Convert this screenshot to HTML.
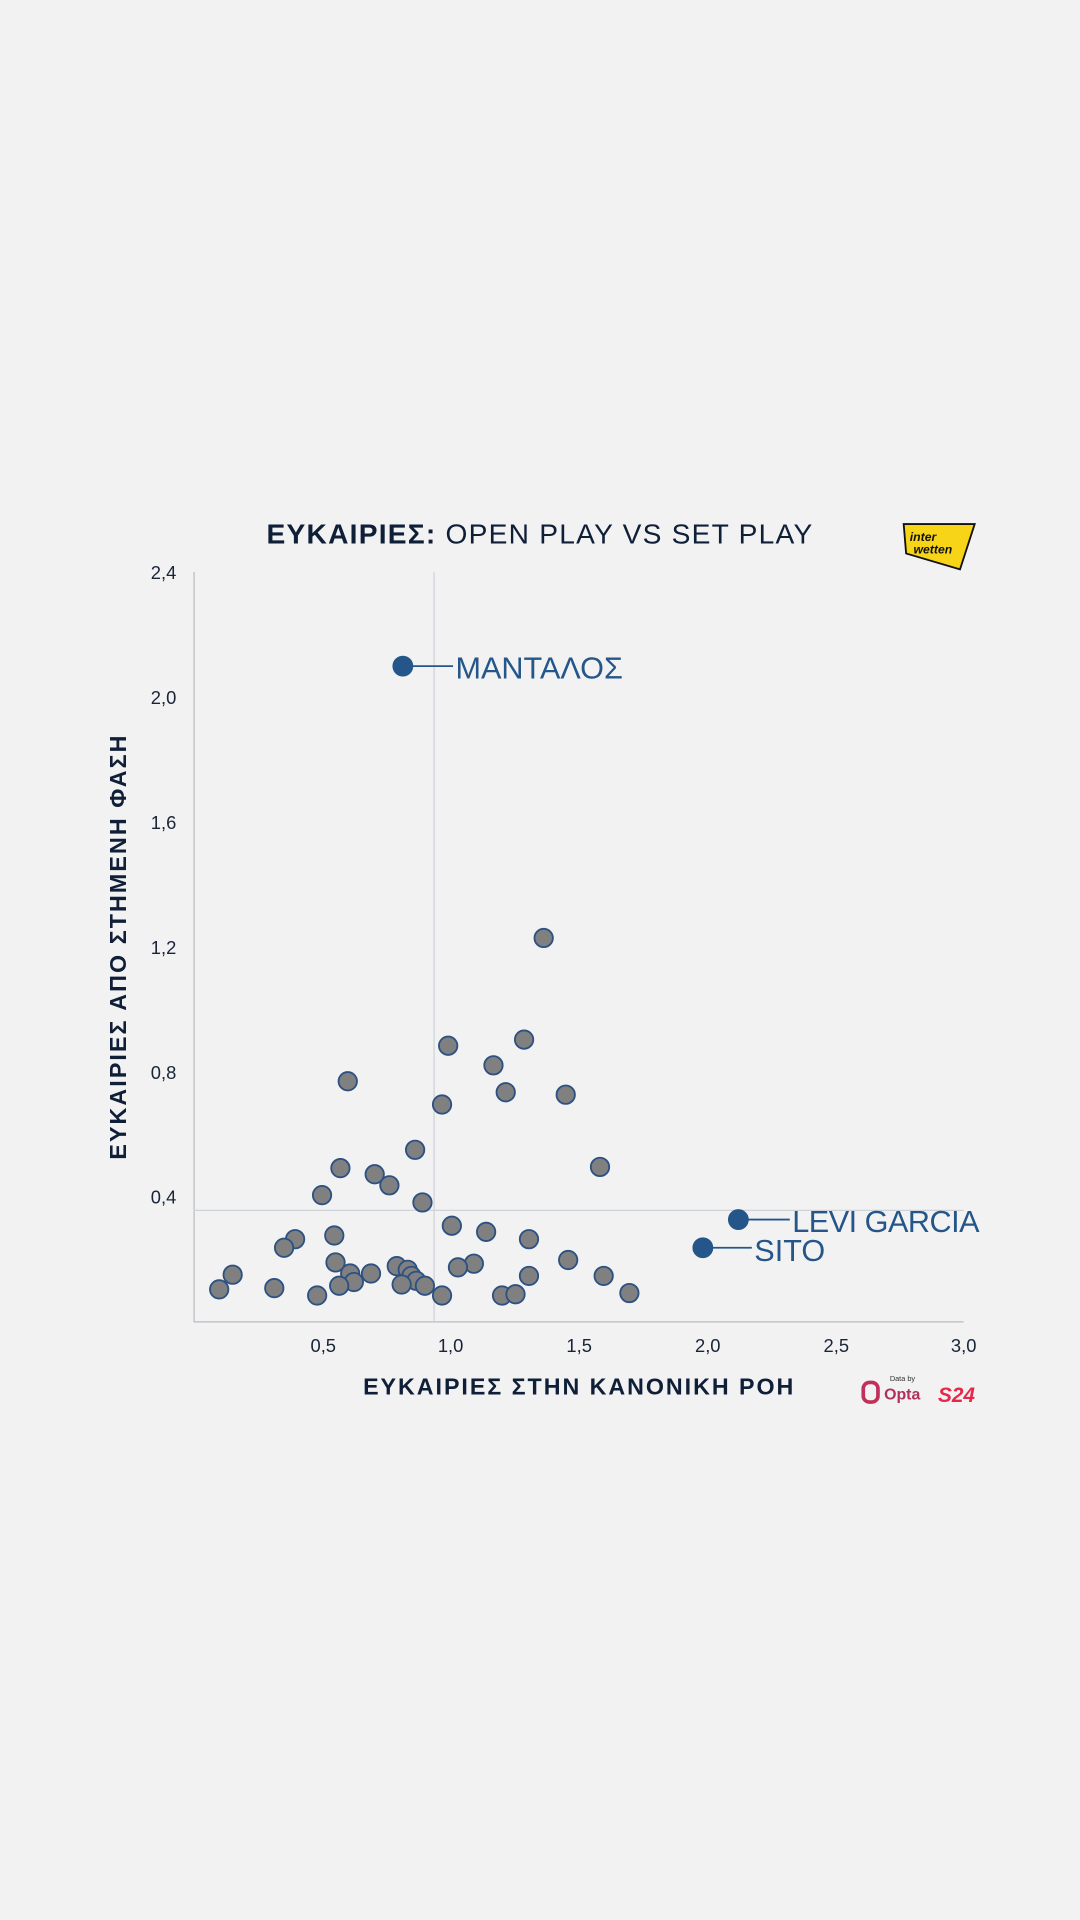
<!DOCTYPE html>
<html><head><meta charset="utf-8"><style>
html,body{margin:0;padding:0;background:#f2f2f2;}
svg{display:block;}
text{font-family:"Liberation Sans","DejaVu Sans",sans-serif;}
</style></head><body>
<svg width="1080" height="1920" viewBox="0 0 882 1568" xmlns="http://www.w3.org/2000/svg">
<rect width="882" height="1568" fill="#f2f2f2"/>
<text x="441" y="444" text-anchor="middle" font-size="23" letter-spacing="1" fill="#0f1f38"><tspan font-weight="bold">ΕΥΚΑΙΡΙΕΣ:</tspan> OPEN PLAY VS SET PLAY</text>
<polygon points="738,428 796,428 784,465 740,452" fill="#f7d417" stroke="#111" stroke-width="1.5"/>
<text x="743" y="442" font-size="10" font-weight="bold" font-style="italic" fill="#111">inter</text>
<text x="746" y="452" font-size="10" font-weight="bold" font-style="italic" fill="#111">wetten</text>
<line x1="158.5" y1="467" x2="158.5" y2="1079" stroke="#b8bcc2" stroke-width="1"/>
<line x1="158" y1="1079.5" x2="787" y2="1079.5" stroke="#b8bcc2" stroke-width="1"/>
<line x1="354.5" y1="467" x2="354.5" y2="1079" stroke="#cdd3d8" stroke-width="1"/>
<line x1="158" y1="988.5" x2="787" y2="988.5" stroke="#cdd3d8" stroke-width="1"/>
<g font-size="15" fill="#1a2438" text-anchor="end">
<text x="144" y="473">2,4</text><text x="144" y="575">2,0</text><text x="144" y="677">1,6</text>
<text x="144" y="779">1,2</text><text x="144" y="881">0,8</text><text x="144" y="983">0,4</text>
</g>
<g font-size="15" fill="#1a2438" text-anchor="middle">
<text x="264" y="1104">0,5</text><text x="368" y="1104">1,0</text><text x="473" y="1104">1,5</text>
<text x="578" y="1104">2,0</text><text x="683" y="1104">2,5</text><text x="787" y="1104">3,0</text>
</g>
<text x="473" y="1139" text-anchor="middle" font-size="19" letter-spacing="1.6" font-weight="bold" fill="#0f1f38">ΕΥΚΑΙΡΙΕΣ ΣΤΗΝ ΚΑΝΟΝΙΚΗ ΡΟΗ</text>
<text transform="translate(103,773) rotate(-90)" text-anchor="middle" font-size="19" letter-spacing="1.7" font-weight="bold" fill="#0f1f38">ΕΥΚΑΙΡΙΕΣ ΑΠΟ ΣΤΗΜΕΝΗ ΦΑΣΗ</text>
<g fill="#808080" stroke="#2c5182" stroke-width="1.5">
<circle cx="444" cy="766" r="7.5"/><circle cx="366" cy="854" r="7.5"/><circle cx="428" cy="849" r="7.5"/>
<circle cx="403" cy="870" r="7.5"/><circle cx="413" cy="892" r="7.5"/><circle cx="462" cy="894" r="7.5"/>
<circle cx="284" cy="883" r="7.5"/><circle cx="361" cy="902" r="7.5"/><circle cx="339" cy="939" r="7.5"/>
<circle cx="490" cy="953" r="7.5"/><circle cx="278" cy="954" r="7.5"/><circle cx="306" cy="959" r="7.5"/>
<circle cx="318" cy="968" r="7.5"/><circle cx="263" cy="976" r="7.5"/><circle cx="345" cy="982" r="7.5"/>
<circle cx="369" cy="1001" r="7.5"/><circle cx="397" cy="1006" r="7.5"/><circle cx="273" cy="1009" r="7.5"/>
<circle cx="241" cy="1012" r="7.5"/><circle cx="232" cy="1019" r="7.5"/><circle cx="432" cy="1012" r="7.5"/>
<circle cx="274" cy="1031" r="7.5"/><circle cx="324" cy="1034" r="7.5"/><circle cx="333" cy="1037" r="7.5"/>
<circle cx="387" cy="1032" r="7.5"/><circle cx="374" cy="1035" r="7.5"/><circle cx="464" cy="1029" r="7.5"/>
<circle cx="286" cy="1040" r="7.5"/><circle cx="303" cy="1040" r="7.5"/><circle cx="190" cy="1041" r="7.5"/>
<circle cx="289" cy="1047" r="7.5"/><circle cx="336" cy="1042" r="7.5"/><circle cx="340" cy="1046" r="7.5"/>
<circle cx="347" cy="1050" r="7.5"/><circle cx="328" cy="1049" r="7.5"/><circle cx="277" cy="1050" r="7.5"/>
<circle cx="432" cy="1042" r="7.5"/><circle cx="493" cy="1042" r="7.5"/><circle cx="179" cy="1053" r="7.5"/>
<circle cx="224" cy="1052" r="7.5"/><circle cx="259" cy="1058" r="7.5"/><circle cx="361" cy="1058" r="7.5"/>
<circle cx="410" cy="1058" r="7.5"/><circle cx="421" cy="1057" r="7.5"/><circle cx="514" cy="1056" r="7.5"/>
</g>
<g fill="#24568a" stroke="#24568a">
<circle cx="329" cy="544" r="8"/><line x1="329" y1="544" x2="370" y2="544" stroke-width="1.5"/>
<circle cx="603" cy="996" r="8"/><line x1="603" y1="996" x2="645" y2="996" stroke-width="1.5"/>
<circle cx="574" cy="1019" r="8"/><line x1="574" y1="1019" x2="614" y2="1019" stroke-width="1.5"/>
</g>
<g fill="#24568a" font-size="25">
<text x="372" y="554">ΜΑΝΤΑΛΟΣ</text>
<text x="647" y="1006" textLength="153">LEVI GARCIA</text>
<text x="616" y="1030">SITO</text>
</g>
<text x="737" y="1128" text-anchor="middle" font-size="6" fill="#333">Data by</text>
<rect x="705" y="1129" width="12" height="16" rx="5" fill="none" stroke="#c0305a" stroke-width="3"/>
<text x="722" y="1143" font-size="13" font-weight="bold" fill="#b0305a">Opta</text>
<text x="766" y="1145" font-size="17" font-weight="bold" font-style="italic" fill="#e8264a">S24</text>
</svg>
</body></html>
